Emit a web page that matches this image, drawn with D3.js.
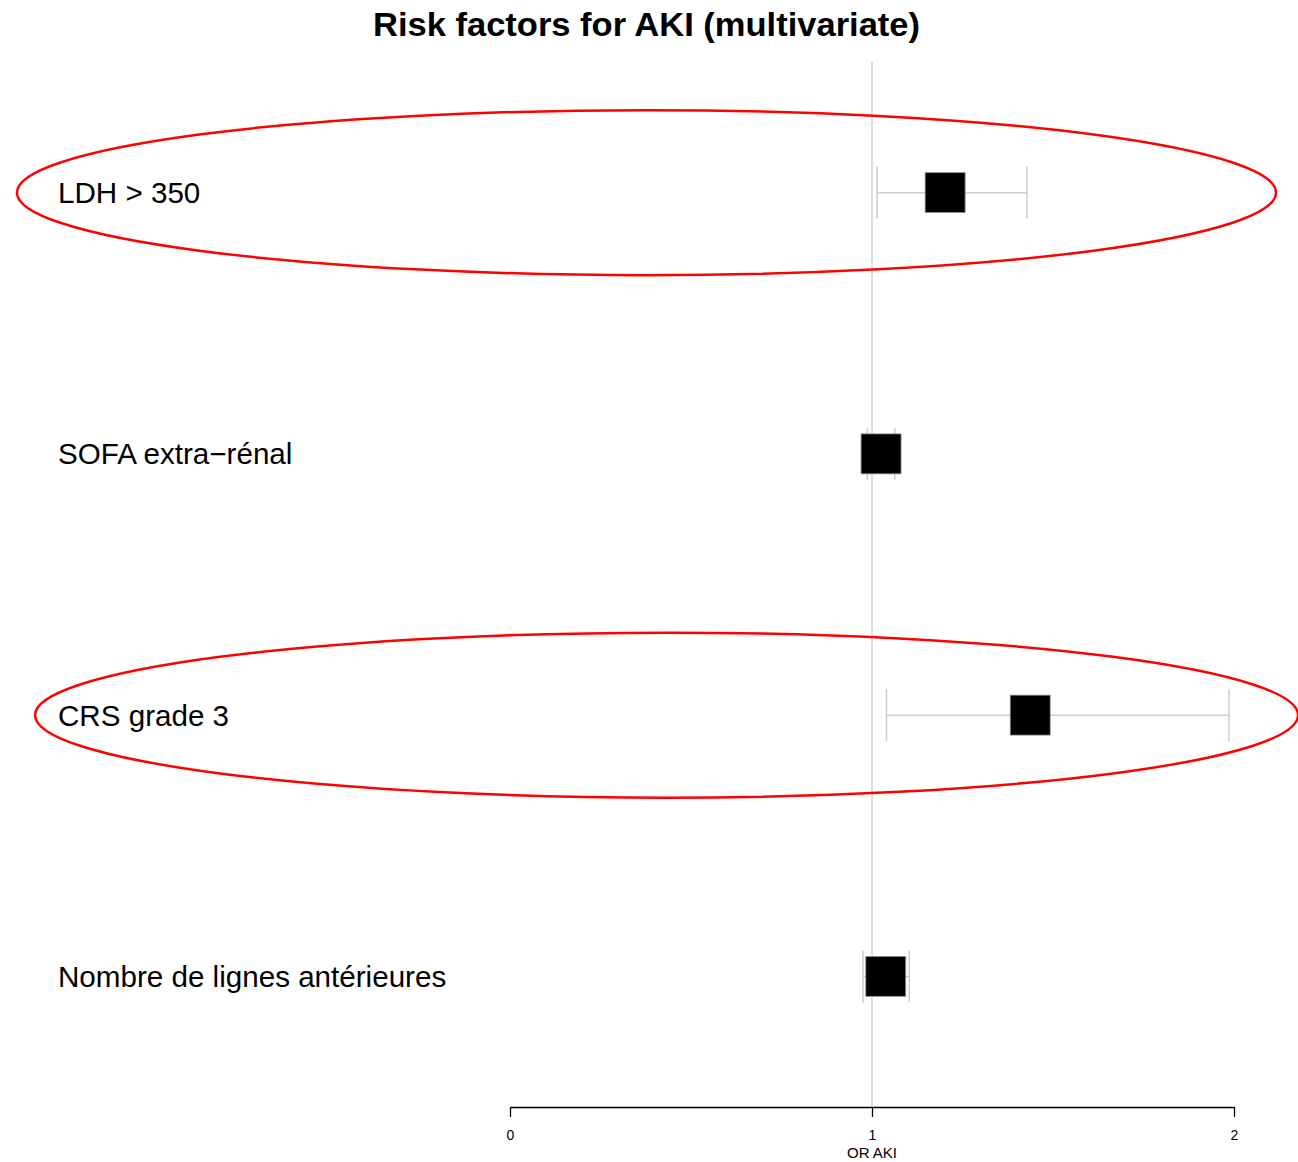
<!DOCTYPE html>
<html lang="fr">
<head>
    <meta charset="UTF-8">
    <title>Risk factors for AKI (multivariate)</title>
    <script src="https://d3js.org/d3.v7.min.js"></script>
    <style>
        body { margin: 0; background: white; }
        svg { display: block; font-family: "Liberation Sans", Arial, sans-serif; }
        .label { font-size: 29.6px; fill: black; }
        .title { font-size: 33px; font-weight: bold; fill: black; }
        .axis text { font-size: 14px; fill: black; font-family: "Liberation Sans", Arial, sans-serif; }
        .axis path, .axis line { stroke: black; stroke-width: 1.3; }
    </style>
</head>
<body>
<div id="chart"></div>
<script>
    var w = 1298;
    var h = 1162;

    // data (odds ratios with 95% CI)
    var factors = ["LDH > 350", "SOFA extra\u2212rénal", "CRS grade 3", "Nombre de lignes antérieures"];
    var oddsRatio = [1.202, 1.025, 1.437, 1.038];
    var ciLow = [1.014, 0.987, 1.040, 0.975];
    var ciHigh = [1.428, 1.063, 1.986, 1.103];
    var xTicks = [0, 1, 2];

    // red ellipses drawn around highlighted rows (x extent in OR units)
    var circledRows = ["LDH > 350", "CRS grade 3"];
    var circleLeft = [-1.362, -1.312];
    var circleRight = [2.116, 2.177];

    var xScale = d3.scaleLinear()
                   .domain([0, 2])
                   .range([510, 1234]);

    var yScale = d3.scaleBand()
                   .domain(factors)
                   .range([62, 1107])
                   .padding(0);

    var svg = d3.select("#chart")
                .append("svg")
                .attr("width", w)
                .attr("height", h);

    // title
    svg.append("text")
       .attr("class", "title")
       .attr("x", 373)
       .attr("y", 36)
       .attr("textLength", 547)
       .attr("lengthAdjust", "spacingAndGlyphs")
       .text("Risk factors for AKI (multivariate)");

    // reference line at OR = 1
    svg.append("line")
       .attr("x1", xScale(1))
       .attr("x2", xScale(1))
       .attr("y1", yScale.range()[0])
       .attr("y2", yScale.range()[1])
       .attr("stroke", "#d3d3d3")
       .attr("stroke-width", 1.5);

    var rows = factors.map(function(f, i) {
        return { name: f, or: oddsRatio[i], lo: ciLow[i], hi: ciHigh[i] };
    });

    var mid = function(d) { return yScale(d.name) + yScale.bandwidth() / 2; };
    var capH = 26;
    var box = 40;

    // labels
    svg.selectAll(".label")
       .data(rows)
       .enter()
       .append("text")
       .attr("class", "label")
       .attr("x", 58)
       .attr("y", function(d) { return mid(d) + 10.5; })
       .text(function(d) { return d.name; });

    // CI lines
    svg.selectAll(".ci")
       .data(rows)
       .enter()
       .append("line")
       .attr("class", "ci")
       .attr("x1", function(d) { return xScale(d.lo); })
       .attr("x2", function(d) { return xScale(d.hi); })
       .attr("y1", mid)
       .attr("y2", mid)
       .attr("stroke", "#cccccc")
       .attr("stroke-width", 1.5);

    ["lo", "hi"].forEach(function(k) {
        svg.selectAll(".cap-" + k)
           .data(rows)
           .enter()
           .append("line")
           .attr("class", "cap-" + k)
           .attr("x1", function(d) { return xScale(d[k]); })
           .attr("x2", function(d) { return xScale(d[k]); })
           .attr("y1", function(d) { return mid(d) - capH; })
           .attr("y2", function(d) { return mid(d) + capH; })
           .attr("stroke", "#cccccc")
           .attr("stroke-width", 1.5);
    });

    // point estimate boxes
    svg.selectAll(".box")
       .data(rows)
       .enter()
       .append("rect")
       .attr("class", "box")
       .attr("x", function(d) { return xScale(d.or) - box / 2; })
       .attr("y", function(d) { return mid(d) - box / 2; })
       .attr("width", box)
       .attr("height", box)
       .attr("fill", "black")
       .attr("stroke", "#999999")
       .attr("stroke-width", 0.8);

    // x axis
    var xAxis = d3.axisBottom(xScale)
                  .tickValues(xTicks)
                  .tickFormat(d3.format("d"))
                  .tickSize(10)
                  .tickSizeOuter(0)
                  .tickPadding(13);

    svg.append("g")
       .attr("class", "axis")
       .attr("transform", "translate(0," + yScale.range()[1] + ")")
       .call(xAxis);

    svg.append("text")
       .attr("x", xScale(1))
       .attr("y", 1158)
       .attr("text-anchor", "middle")
       .style("font-size", "15px")
       .text("OR AKI");

    // red highlight ellipses
    svg.selectAll(".hl")
       .data(circledRows)
       .enter()
       .append("ellipse")
       .attr("class", "hl")
       .attr("cx", function(d, i) { return (xScale(circleLeft[i]) + xScale(circleRight[i])) / 2; })
       .attr("cy", function(d) { return yScale(d) + yScale.bandwidth() / 2; })
       .attr("rx", function(d, i) { return (xScale(circleRight[i]) - xScale(circleLeft[i])) / 2; })
       .attr("ry", 82.5)
       .attr("fill", "none")
       .attr("stroke", "#ff0000")
       .attr("stroke-width", 2.5);
</script>
</body>
</html>
